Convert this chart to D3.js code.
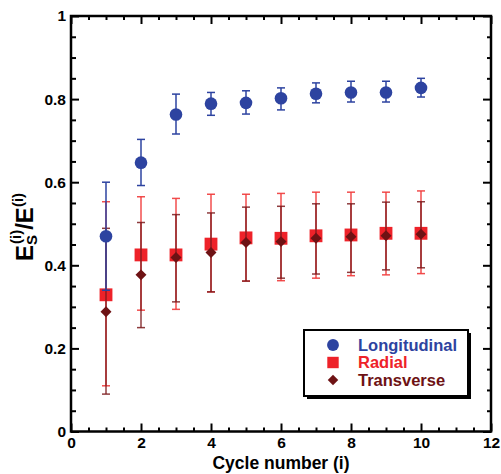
<!DOCTYPE html>
<html>
<head>
<meta charset="utf-8">
<script src="https://cdn.jsdelivr.net/npm/d3@7"></script>
<style>
  body { margin: 0; background: #fff; }
  text { font-family: "Liberation Sans", Arial, sans-serif; font-weight: bold; }
</style>
</head>
<body>
<div id="chart-area"></div>
<script>
// ----------------- Data -----------------
let cycles = [1, 2, 3, 4, 5, 6, 7, 8, 9, 10];

let long_mean = [0.470, 0.647, 0.763, 0.789, 0.791, 0.802, 0.813, 0.816, 0.816, 0.827];
let long_hi   = [0.600, 0.703, 0.812, 0.816, 0.820, 0.827, 0.839, 0.843, 0.843, 0.850];
let long_lo   = [0.340, 0.592, 0.716, 0.761, 0.764, 0.774, 0.791, 0.793, 0.793, 0.805];

let rad_mean = [0.329, 0.425, 0.425, 0.451, 0.466, 0.465, 0.471, 0.473, 0.477, 0.477];
let rad_hi   = [0.553, 0.565, 0.561, 0.571, 0.571, 0.573, 0.576, 0.576, 0.576, 0.579];
let rad_lo   = [0.110, 0.292, 0.294, 0.336, 0.362, 0.363, 0.369, 0.375, 0.377, 0.380];

let trans_mean = [0.288, 0.377, 0.419, 0.431, 0.455, 0.457, 0.465, 0.469, 0.471, 0.475];
let trans_hi   = [0.489, 0.503, 0.522, 0.526, 0.540, 0.542, 0.548, 0.548, 0.552, 0.553];
let trans_lo   = [0.090, 0.250, 0.312, 0.336, 0.362, 0.369, 0.379, 0.383, 0.389, 0.394];

let x_ticks = [0, 2, 4, 6, 8, 10, 12];
let y_ticks = [0, 0.2, 0.4, 0.6, 0.8, 1];
let series_names = ["Longitudinal", "Radial", "Transverse"];

// ----------------- Setup -----------------
let margin = { left: 71, right: 10, top: 16, bottom: 42.5 };
let width = 501 - margin.left - margin.right;
let height = 474 - margin.top - margin.bottom;

let svg = d3.select("#chart-area")
  .append("svg")
    .attr("width", 501)
    .attr("height", 474);

let group = svg.append("g")
    .attr("transform", `translate(${margin.left}, ${margin.top})`);

let x = d3.scaleLinear().domain([0, 12]).range([0, width]);
let y = d3.scaleLinear().domain([0, 1]).range([height, 0]);

let blue = "#2d43a0";
let red = "#ee2229";
let dark = "#6e1214";

// ----------------- Ticks -----------------
let x_minor = d3.range(0, 12.01, 0.5).filter(v => v % 2 !== 0);
let y_minor = d3.range(0, 1.001, 0.05).map(v => +v.toFixed(2)).filter(v => Math.round(v * 100) % 20 !== 0);

function tick_style(g) {
  g.select(".domain").remove();
  g.selectAll("line").attr("stroke", "#000").attr("stroke-width", 2);
  g.selectAll("text").attr("font-size", "15.5px").attr("fill", "#000");
}

// bottom
group.append("g")
  .attr("transform", `translate(0, ${height})`)
  .call(d3.axisBottom(x).tickValues(x_ticks).tickSizeInner(-8).tickSizeOuter(0).tickPadding(5).tickFormat(d3.format("~g")))
  .call(tick_style);
group.append("g")
  .attr("transform", `translate(0, ${height})`)
  .call(d3.axisBottom(x).tickValues(x_minor).tickSizeInner(-4).tickSizeOuter(0).tickFormat(""))
  .call(tick_style);
// top
group.append("g")
  .call(d3.axisTop(x).tickValues(x_ticks).tickSizeInner(-8).tickSizeOuter(0).tickFormat(""))
  .call(tick_style);
group.append("g")
  .call(d3.axisTop(x).tickValues(x_minor).tickSizeInner(-4).tickSizeOuter(0).tickFormat(""))
  .call(tick_style);
// left
group.append("g")
  .call(d3.axisLeft(y).tickValues(y_ticks).tickSizeInner(-8).tickSizeOuter(0).tickPadding(5).tickFormat(d3.format("~g")))
  .call(tick_style);
group.append("g")
  .call(d3.axisLeft(y).tickValues(y_minor).tickSizeInner(-5).tickSizeOuter(0).tickFormat(""))
  .call(tick_style);
// right
group.append("g")
  .attr("transform", `translate(${width}, 0)`)
  .call(d3.axisRight(y).tickValues(y_ticks).tickSizeInner(-8).tickSizeOuter(0).tickFormat(""))
  .call(tick_style);
group.append("g")
  .attr("transform", `translate(${width}, 0)`)
  .call(d3.axisRight(y).tickValues(y_minor).tickSizeInner(-4).tickSizeOuter(0).tickFormat(""))
  .call(tick_style);

// frame
group.append("rect")
  .attr("width", width)
  .attr("height", height)
  .attr("fill", "none")
  .attr("stroke", "#000")
  .attr("stroke-width", 2.5);

// ----------------- Labels -----------------
group.append("text")
  .attr("x", width / 2)
  .attr("y", height + 37.5)
  .attr("font-size", "17.5px")
  .attr("text-anchor", "middle")
  .text("Cycle number  (i)");

let y_label = svg.append("text")
  .attr("transform", "translate(33, 261) rotate(-90)")
  .attr("font-size", "24px");
y_label.append("tspan").text("E");
y_label.append("tspan").attr("font-size", "15px").attr("dy", 4).text("S");
y_label.append("tspan").attr("font-size", "15px").attr("dx", -9).attr("dy", -16).text("(i)");
y_label.append("tspan").attr("dy", 12).text("/E");
y_label.append("tspan").attr("font-size", "15px").attr("dy", -10).text("(i)");

// ----------------- Error bars + markers -----------------
function error_bars(mean, lo, hi, color, opacity) {
  let data = cycles.map((c, i) => ({ c: c, lo: lo[i], hi: hi[i] }));
  let g = group.append("g")
    .attr("stroke", color)
    .attr("stroke-width", 1.5)
    .attr("stroke-opacity", opacity);
  g.selectAll(".stem").data(data).enter().append("line")
    .attr("x1", d => x(d.c)).attr("x2", d => x(d.c))
    .attr("y1", d => y(d.lo)).attr("y2", d => y(d.hi));
  g.selectAll(".cap-hi").data(data).enter().append("line")
    .attr("x1", d => x(d.c) - 4).attr("x2", d => x(d.c) + 4)
    .attr("y1", d => y(d.hi)).attr("y2", d => y(d.hi));
  g.selectAll(".cap-lo").data(data).enter().append("line")
    .attr("x1", d => x(d.c) - 4).attr("x2", d => x(d.c) + 4)
    .attr("y1", d => y(d.lo)).attr("y2", d => y(d.lo));
}

// rotate = 45 turns the square into an even diamond
function markers(mean, symbol, size, color, rotate) {
  group.append("g").selectAll("path")
    .data(cycles.map((c, i) => ({ c: c, v: mean[i] })))
    .enter().append("path")
      .attr("transform", d => `translate(${x(d.c)}, ${y(d.v)}) rotate(${rotate || 0})`)
      .attr("d", d3.symbol().type(symbol).size(size))
      .attr("fill", color);
}

error_bars(rad_mean, rad_lo, rad_hi, "#f03a3a", 0.9);
markers(rad_mean, d3.symbolSquare, 165, red);
error_bars(trans_mean, trans_lo, trans_hi, "#7a1a1c", 0.85);
markers(trans_mean, d3.symbolSquare, 60, dark, 45);
error_bars(long_mean, long_lo, long_hi, blue, 1);
markers(long_mean, d3.symbolCircle, 125, blue);

// ----------------- Legend -----------------
let legend = svg.append("g").attr("transform", "translate(304, 330)");
legend.append("rect")
  .attr("x", 3).attr("y", 3)
  .attr("width", 164).attr("height", 66)
  .attr("fill", "#000");
legend.append("rect")
  .attr("width", 164).attr("height", 66)
  .attr("fill", "#fff")
  .attr("stroke", "#000")
  .attr("stroke-width", 2);

let legend_symbols = [d3.symbolCircle, d3.symbolSquare, d3.symbolSquare];
let legend_sizes = [110, 130, 55];
let legend_rotate = [0, 0, 45];
let legend_colors = [blue, red, dark];

series_names.forEach((name, i) => {
  let row = legend.append("g").attr("transform", `translate(29, ${15 + i * 17.5})`);
  row.append("path")
    .attr("transform", `rotate(${legend_rotate[i]})`)
    .attr("d", d3.symbol().type(legend_symbols[i]).size(legend_sizes[i]))
    .attr("fill", legend_colors[i]);
  row.append("text")
    .attr("x", 25)
    .attr("dy", "0.36em")
    .attr("font-size", "16.5px")
    .attr("fill", legend_colors[i])
    .text(name);
});
</script>
</body>
</html>
